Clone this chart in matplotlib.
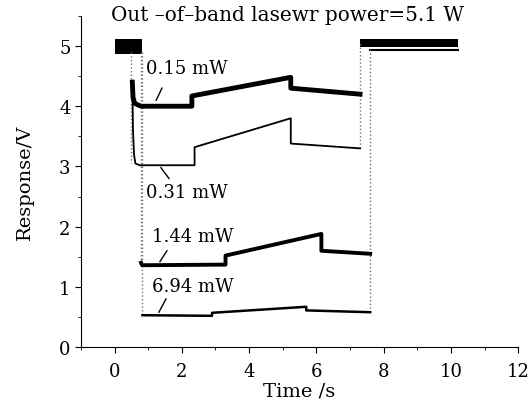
import numpy as np
import matplotlib
matplotlib.use('Agg')
import matplotlib.pyplot as plt
from matplotlib.ticker import MultipleLocator

plt.rcParams['font.family'] = ['DejaVu Serif']

# laser off level (before / after)
off1_t = [0.0, 0.82]
off1_lo = [4.87, 4.87]
off1_hi = [5.12, 5.12]
off2_t = [7.3, 10.2]
off2_lo = [4.98, 4.98]
off2_hi = [5.12, 5.12]
off3_t = [7.6, 10.2]
off3_v = [4.94, 4.94]

# responses for each in-band power
t_015 = [0.53, 0.55, 0.6, 0.7, 0.8, 1.0, 2.3, 2.3, 5.24, 5.24, 7.3]
v_015 = [4.4, 4.15, 4.05, 4.02, 4.0, 4.0, 4.0, 4.17, 4.48, 4.3, 4.2]
t_031 = [0.53, 0.55, 0.58, 0.62, 0.75, 2.38, 2.38, 5.24, 5.24, 7.3]
v_031 = [4.4, 3.6, 3.2, 3.05, 3.02, 3.02, 3.32, 3.8, 3.38, 3.3]
t_144 = [0.79, 0.82, 3.3, 3.3, 6.15, 6.15, 7.6]
v_144 = [1.4, 1.36, 1.37, 1.52, 1.88, 1.6, 1.55]
t_694 = [0.83, 2.9, 2.9, 5.7, 5.7, 7.6]
v_694 = [0.53, 0.52, 0.57, 0.67, 0.61, 0.58]

# switching edges (dotted)
edges = [(0.50, 4.9, 3.05), (0.79, 4.9, 1.37), (0.83, 4.9, 0.53),
         (7.3, 3.3, 5.05), (7.6, 0.58, 4.95)]

labels = ['0.15 mW', '0.31 mW', '1.44 mW', '6.94 mW']
label_xy = [(0.95, 4.63), (0.95, 2.58), (1.1, 1.85), (1.1, 1.02)]
lead = [((1.41, 4.3), (1.24, 4.1)), ((1.38, 2.98), (1.62, 2.8)),
        ((1.56, 1.6), (1.35, 1.42)), ((1.53, 0.8), (1.32, 0.58))]

fig = plt.figure(figsize=(5.32, 4.02), dpi=100)
ax = fig.add_axes([0.152, 0.134, 0.822, 0.824])

ax.fill_between(off1_t, off1_lo, off1_hi, color='k', lw=0)
ax.fill_between(off2_t, off2_lo, off2_hi, color='k', lw=0)
ax.plot(off3_t, off3_v, 'k-', lw=1.5)

for x, y0, y1 in edges:
    ax.plot([x, x], [y0, y1], color='0.45', ls=':', lw=1.0)

ax.plot(t_015, v_015, 'k-', lw=3.5)
ax.plot(t_031, v_031, 'k-', lw=1.3)
ax.plot(t_144, v_144, 'k-', lw=2.8)
ax.plot(t_694, v_694, 'k-', lw=1.8)

for lab, (x, y), (p0, p1) in zip(labels, label_xy, lead):
    ax.text(x, y, lab, fontsize=13, va='center', ha='left')
    ax.plot([p0[0], p1[0]], [p0[1], p1[1]], 'k-', lw=1)

ax.text(5.15, 5.52, 'Out \u2013of\u2013band lasewr power=5.1 W', fontsize=14.4,
        ha='center', va='center')

ax.set_xlim(-1, 12)
ax.set_ylim(0, 5.5)
ax.xaxis.set_major_locator(MultipleLocator(2))
ax.xaxis.set_minor_locator(MultipleLocator(1))
ax.yaxis.set_major_locator(MultipleLocator(1))
ax.yaxis.set_minor_locator(MultipleLocator(0.5))
ax.spines['top'].set_visible(False)
ax.spines['right'].set_visible(False)
ax.tick_params(which='major', direction='out', length=4, labelsize=13)
ax.tick_params(axis='x', which='major', pad=7)
ax.tick_params(which='minor', direction='out', length=2)
ax.set_xlabel('Time /s', fontsize=14, labelpad=1)
ax.set_ylabel('Response/V', fontsize=14, labelpad=18)

plt.savefig('out.png')
